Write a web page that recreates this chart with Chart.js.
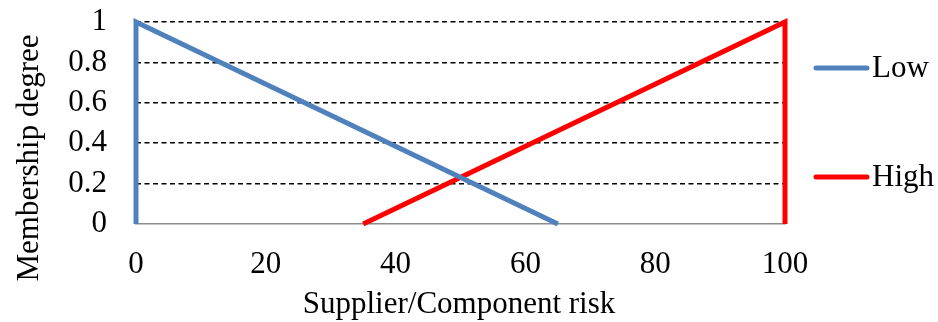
<!DOCTYPE html>
<html>
<head>
<meta charset="utf-8">
<script src="https://cdn.jsdelivr.net/npm/chart.js@4/dist/chart.umd.min.js"></script>
<style>
  html, body { margin: 0; padding: 0; background: #fff; }
  #wrap { width: 938px; height: 322px; position: relative; }
</style>
</head>
<body>
<div id="wrap"><canvas id="c" width="938" height="322"></canvas></div>
<script>
// Membership functions for supplier/component risk
const seriesNames = ['Low', 'High'];
const lowX = [0, 0, 65];
const lowY = [0, 1, 0];
const highX = [35, 100, 100];
const highY = [0, 1, 0];
const xTicks = [0, 20, 40, 60, 80, 100];
const yTicks = [0, 0.2, 0.4, 0.6, 0.8, 1];
const seriesColors = ['#4F81BD', '#FF0000'];
const xTitle = 'Supplier/Component risk';
const yTitle = 'Membership degree';

const FONT = '"Liberation Serif", "Times New Roman", serif';
const FSIZE = 31;

function pts(xs, ys) { return xs.map((x, i) => ({ x: x, y: ys[i] })); }

// Axis titles and a right-hand legend drawn onto the canvas
const decor = {
  id: 'decor',
  afterDraw(chart) {
    const ctx = chart.ctx;
    ctx.save();
    ctx.fillStyle = '#000';
    ctx.font = FSIZE + 'px ' + FONT;
    ctx.textAlign = 'center';
    ctx.textBaseline = 'middle';
    ctx.fillText(xTitle, 459, 305);
    ctx.translate(30, 158);
    ctx.rotate(-Math.PI / 2);
    ctx.fillText(yTitle, 0, 0);
    ctx.restore();

    ctx.save();
    const legendY = [68, 177];
    chart.data.datasets.forEach((ds, i) => {
      const y = legendY[i];
      ctx.strokeStyle = ds.borderColor;
      ctx.lineWidth = 5;
      ctx.lineCap = 'round';
      ctx.beginPath();
      ctx.moveTo(816, y);
      ctx.lineTo(867, y);
      ctx.stroke();
      ctx.fillStyle = '#000';
      ctx.font = FSIZE + 'px ' + FONT;
      ctx.textAlign = 'left';
      ctx.textBaseline = 'middle';
      ctx.fillText(ds.label, 872, y + 1);
    });
    ctx.restore();
  }
};

new Chart(document.getElementById('c'), {
  type: 'scatter',
  data: {
    datasets: [
      { label: seriesNames[0], data: pts(lowX, lowY), borderColor: seriesColors[0], backgroundColor: seriesColors[0],
        showLine: true, borderWidth: 5, pointRadius: 0, tension: 0, clip: false },
      { label: seriesNames[1], data: pts(highX, highY), borderColor: seriesColors[1], backgroundColor: seriesColors[1],
        showLine: true, borderWidth: 5, pointRadius: 0, tension: 0, clip: false }
    ]
  },
  options: {
    responsive: false,
    animation: false,
    layout: { padding: { top: 22, right: 153, left: 0, bottom: 0 } },
    plugins: { legend: { display: false }, tooltip: { enabled: false } },
    scales: {
      x: {
        type: 'linear', min: 0, max: 100,
        afterBuildTicks(s) { s.ticks = xTicks.map(v => ({ value: v })); },
        afterFit(s) { s.height = 98; s.paddingLeft = 0; s.paddingRight = 0; },
        grid: { display: false, drawTicks: false },
        border: { display: true, color: '#8C8C8C', width: 1.5 },
        ticks: { color: '#000', font: { family: FONT, size: FSIZE }, padding: 22, maxRotation: 0 }
      },
      y: {
        type: 'linear', min: 0, max: 1,
        afterBuildTicks(s) { s.ticks = yTicks.map(v => ({ value: v })); },
        afterFit(s) { s.width = 136; s.paddingTop = 0; s.paddingBottom = 0; },
        grid: {
          drawTicks: false,
          color: c => (c.tick && c.tick.value === 0) ? 'rgba(0,0,0,0)' : '#000',
          lineWidth: 1.6
        },
        border: { display: false, dash: [5, 3.5] },
        ticks: { color: '#000', font: { family: FONT, size: FSIZE }, padding: 29,
                 callback: v => String(v) }
      }
    }
  },
  plugins: [decor]
});
</script>
</body>
</html>
